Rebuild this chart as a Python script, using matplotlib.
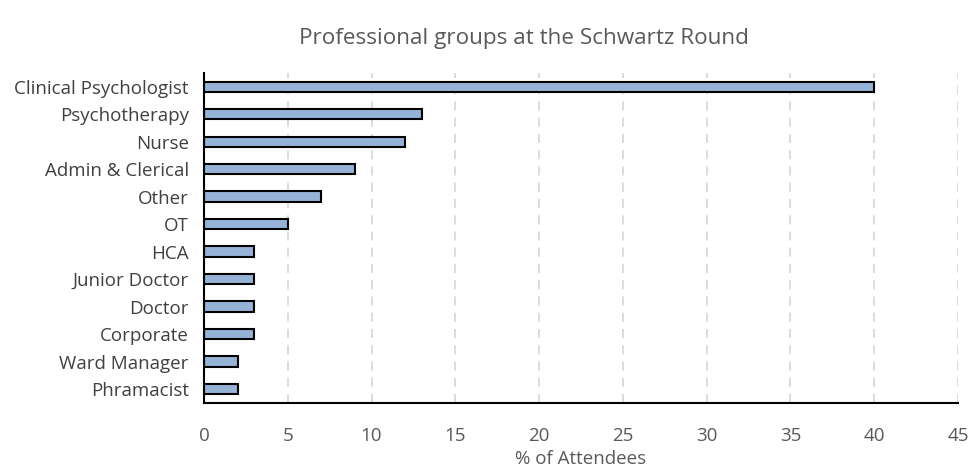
import matplotlib.pyplot as plt

# Dữ liệu
groups = ['Clinical Psychologist', 'Psychotherapy', 'Nurse', 'Admin & Clerical',
          'Other', 'OT', 'HCA', 'Junior Doctor', 'Doctor', 'Corporate',
          'Ward Manager', 'Phramacist']
percent = [40, 13, 12, 9, 7, 5, 3, 3, 3, 3, 2, 2]

plt.rcParams['font.family'] = ['Open Sans', 'DejaVu Sans']

fig = plt.figure(figsize=(9.7, 4.74), dpi=100)
ax = fig.add_axes([0.2103, 0.150, 0.7773, 0.696])

ypos = list(range(len(groups)))
ax.barh(ypos, percent, height=0.38, color='#95b3d7', edgecolor='black',
        linewidth=1.5, zorder=3)

ax.set_yticks(ypos)
ax.set_yticklabels(groups, fontsize=13.5, color='#404040')
ax.set_ylim(len(groups) - 0.5, -0.5)
ax.set_xlim(0, 45)
ax.set_xticks(range(0, 46, 5))
ax.tick_params(axis='x', labelsize=13.5, labelcolor='#595959', length=0, pad=17)
ax.tick_params(axis='y', length=0, pad=11)

ax.grid(axis='x', color='#d9d9d9', linestyle=(0, (5, 4)), linewidth=1.3, zorder=0)
for s in ['top', 'right']:
    ax.spines[s].set_visible(False)
ax.spines['left'].set_linewidth(1.5)
ax.spines['bottom'].set_linewidth(1.5)
ax.spines['left'].set_zorder(4)

ax.set_xlabel('% of Attendees', fontsize=13.5, color='#595959', labelpad=4)
fig.suptitle('Professional groups at the Schwartz Round', fontsize=16.2,
             color='#595959', x=0.54, y=0.94, va='top')

plt.savefig('out.png', dpi=100)
